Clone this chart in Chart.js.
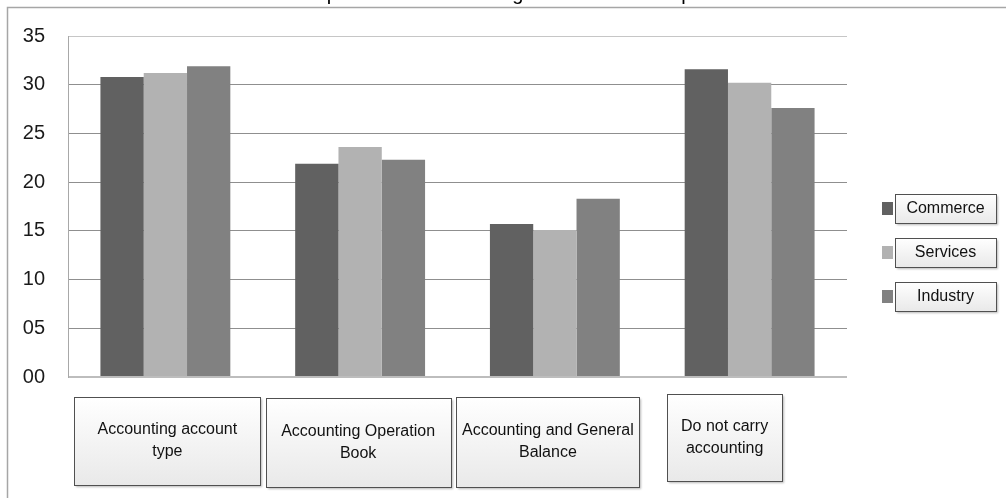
<!DOCTYPE html>
<html>
<head>
<meta charset="utf-8">
<script src="https://cdn.jsdelivr.net/npm/chart.js@4"></script>
<style>
    body { margin: 0; background: #fff; }
    canvas { display: block; }
</style>
</head>
<body>
<canvas id="graph" width="1006" height="498"></canvas>
<script>
// DADOS
const categories = [
    ["Accounting account", "type"],
    ["Accounting Operation", "Book"],
    ["Accounting and General", "Balance"],
    ["Do not carry", "accounting"],
];
const seriesNames = ["Commerce", "Services", "Industry"];
const commerce = [30.8, 21.9, 15.7, 31.6];
const services = [31.2, 23.6, 15.1, 30.2];
const industry = [31.9, 22.3, 18.3, 27.6];
const yTicks = [0, 5, 10, 15, 20, 25, 30, 35];
const titleText = "Graph No. 10: Accounting in the small enterprises";

const colors = ["#616161", "#b2b2b2", "#818181"];

// caixas das categorias (ajuste fino em relação ao centro da categoria)
const boxShift = [2, -2, -7, -25];
const boxWidth = [186, 185, 183, 115];
const boxTop = [397, 398, 397, 394];
const boxHeight = [88, 89, 90, 87];

const FONT = "'Liberation Sans', Arial, sans-serif";

// MOLDURA + TÍTULO
const framePlugin = {
    id: "frame",
    beforeDraw(chart) {
        const c = chart.ctx;
        c.save();
        c.strokeStyle = "#a6a6a6";
        c.lineWidth = 1.5;
        c.beginPath();
        c.moveTo(7.5, chart.height);
        c.lineTo(7.5, 7.5);
        c.lineTo(chart.width, 7.5);
        c.stroke();
        c.fillStyle = "#000";
        c.font = "20px " + FONT;
        c.textAlign = "center";
        c.textBaseline = "alphabetic";
        c.fillText(titleText, 514, 0);
        c.restore();
    },
};

// CAIXAS DE RÓTULO E LEGENDA
function drawBox(c, x, y, w, h) {
    c.save();
    c.shadowColor = "rgba(0,0,0,0.28)";
    c.shadowOffsetX = 2;
    c.shadowOffsetY = 2;
    c.shadowBlur = 2;
    const g = c.createLinearGradient(0, y, 0, y + h);
    g.addColorStop(0, "#ffffff");
    g.addColorStop(1, "#e9e9e9");
    c.fillStyle = g;
    c.fillRect(x, y, w, h);
    c.restore();
    c.save();
    c.strokeStyle = "#505050";
    c.lineWidth = 1;
    c.strokeRect(x + 0.5, y + 0.5, w, h);
    c.restore();
}

const boxesPlugin = {
    id: "boxes",
    afterDraw(chart) {
        const c = chart.ctx;
        const xs = chart.scales.x;
        categories.forEach((lines, i) => {
            const cx = xs.getPixelForValue(i) + boxShift[i];
            const w = boxWidth[i];
            const top = boxTop[i];
            const h = boxHeight[i];
            drawBox(c, Math.round(cx - w / 2), top, w, h);
            c.save();
            c.fillStyle = "#111";
            c.font = "16px " + FONT;
            c.textAlign = "center";
            c.textBaseline = "middle";
            const lh = 22;
            const y0 = top + h / 2 - (lines.length - 1) * lh / 2;
            lines.forEach((t, k) => c.fillText(t, cx, y0 + k * lh));
            c.restore();
        });

        // legenda
        chart.data.datasets.forEach((ds, i) => {
            const top = 194 + i * 44;
            c.save();
            c.fillStyle = ds.backgroundColor;
            c.fillRect(882, top + 8, 11, 13);
            c.restore();
            drawBox(c, 895, top, 101, 29);
            c.save();
            c.fillStyle = "#111";
            c.font = "16px " + FONT;
            c.textAlign = "center";
            c.textBaseline = "middle";
            c.fillText(ds.label, 945.5, top + 15);
            c.restore();
        });
    },
};

// CONSTRUIR GRÁFICO
const ctx = document.getElementById("graph");
new Chart(ctx, {
    type: "bar",
    data: {
        labels: categories,
        datasets: [
            { label: seriesNames[0], data: commerce, backgroundColor: colors[0] },
            { label: seriesNames[1], data: services, backgroundColor: colors[1] },
            { label: seriesNames[2], data: industry, backgroundColor: colors[2] },
        ],
    },
    options: {
        responsive: false,
        animation: false,
        devicePixelRatio: 1,
        layout: {
            padding: { left: 0, right: 159, top: 36, bottom: 121 },
        },
        datasets: {
            bar: {
                barPercentage: 1,
                categoryPercentage: 0.667,
                borderWidth: 0,
            },
        },
        scales: {
            x: {
                display: false,
            },
            y: {
                min: 0,
                max: 35,
                afterFit(scale) {
                    scale.width = 68;
                },
                afterBuildTicks(scale) {
                    scale.ticks = yTicks.map((v) => ({ value: v }));
                },
                border: {
                    display: true,
                    color: "#a8a8a8",
                    width: 1,
                },
                grid: {
                    drawTicks: false,
                    color: (c) => c.tick.value === 35 ? "#c6c6c6" : c.tick.value === 0 ? "#bdbdbd" : "#8f8f8f",
                    lineWidth: (c) => c.tick.value === 0 ? 2 : 1,
                },
                ticks: {
                    padding: 23,
                    color: "#1a1a1a",
                    font: { size: 20, family: FONT },
                    callback: (v) => String(v).padStart(2, "0"),
                },
            },
        },
        plugins: {
            legend: { display: false },
            title: { display: false },
            tooltip: { enabled: false },
        },
    },
    plugins: [framePlugin, boxesPlugin],
});
</script>
</body>
</html>
